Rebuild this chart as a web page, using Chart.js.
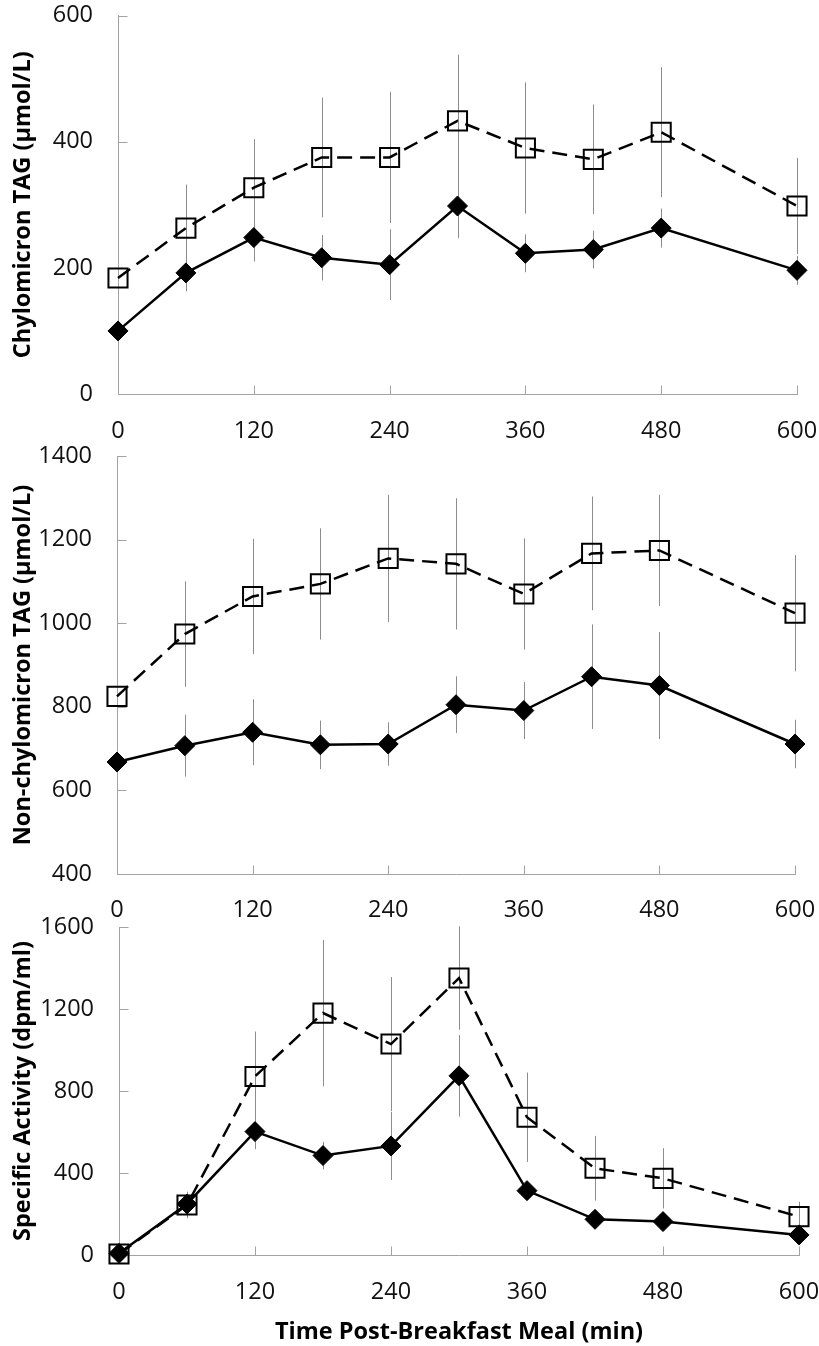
<!DOCTYPE html>
<html><head><meta charset="utf-8">
<script src="https://cdn.jsdelivr.net/npm/chart.js@4.4.1/dist/chart.umd.min.js"></script>
<style>
html,body{margin:0;padding:0;background:#fff;width:819px;height:1346px;overflow:hidden;position:relative}
canvas{position:absolute;left:0;display:block}
</style></head><body>
<canvas id="c1" width="819" height="450" style="top:0px"></canvas>
<canvas id="c2" width="819" height="500" style="top:430px"></canvas>
<canvas id="c3" width="819" height="446" style="top:900px"></canvas>
<script>
// ---- data ----
const times = [0, 60, 120, 180, 240, 300, 360, 420, 480, 600];
const xTickValues = [0, 120, 240, 360, 480, 600];

const chyloTicks = [0, 200, 400, 600];
const chyloSquare = [184, 263, 327, 375, 375, 433, 390, 372, 415, 298];
const chyloSquareErr = [null, 69, 77, 95, 104, 105, 104, 87, 103, 76];
const chyloDiamond = [100, 192, 248, 216, 205, 298, 223, 229, 263, 196];
const chyloDiamondErr = [null, 29, 38, 36, 56, 51, 30, 30, 31, 23];

const nonChyloTicks = [400, 600, 800, 1000, 1200, 1400];
const nonChyloSquare = [825, 974, 1064, 1094, 1155, 1142, 1070, 1167, 1174, 1024];
const nonChyloSquareErr = [null, 126, 138, 133, 152, 157, 133, 136, 133, 139];
const nonChyloDiamond = [668, 707, 739, 709, 711, 805, 791, 872, 851, 711];
const nonChyloDiamondErr = [null, 74, 79, 58, 52, 68, 68, 125, 128, 58];

const saTicks = [0, 400, 800, 1200, 1600];
const saSquare = [5, 244, 871, 1180, 1029, 1351, 672, 423, 374, 187];
const saSquareErr = [null, 65, 219, 357, 327, 252, 218, 158, 147, 73];
const saDiamond = [8, 249, 602, 485, 532, 874, 314, 174, 163, 98];
const saDiamondErr = [null, 30, 86, 67, 166, 199, 30, 20, 20, 15];

// ---- style ----
const AXIS = '#a3a3a3';
const ERR = '#8c8c8c';
const FONT = "'Open Sans', 'Noto Sans', sans-serif";
const TICK_SIZE = 23.5;
const TITLE_SIZE = 23.5;

const errPlugin = {
  id: 'errInside',
  beforeDatasetsDraw(chart) {
    const {ctx, scales: {x, y}} = chart;
    ctx.save();
    ctx.strokeStyle = ERR;
    ctx.lineWidth = 1;
    chart.data.datasets.forEach(ds => {
      ds.data.forEach((p, i) => {
        const e = ds.errors[i];
        if (e == null) return;
        const px = Math.round(x.getPixelForValue(p.x)) + 0.5;
        ctx.beginPath();
        ctx.moveTo(px, y.getPixelForValue(p.y + e));
        ctx.lineTo(px, y.getPixelForValue(p.y - e));
        ctx.stroke();
      });
    });
    ctx.strokeStyle = AXIS;
    const ax = Math.round(x.left) + 0.5;
    const ay = Math.round(y.bottom) + 0.5;
    y.ticks.forEach(t => {
      const py = Math.round(y.getPixelForValue(t.value)) + 0.5;
      ctx.beginPath(); ctx.moveTo(ax, py); ctx.lineTo(ax + 9, py); ctx.stroke();
    });
    x.ticks.forEach(t => {
      if (t.value === x.min) return;
      const px = Math.round(x.getPixelForValue(t.value)) + 0.5;
      ctx.beginPath(); ctx.moveTo(px, ay); ctx.lineTo(px, ay - 9); ctx.stroke();
    });
    ctx.restore();
  }
};

function zeroPad(s) { s.paddingLeft = 0; s.paddingRight = 0; s.paddingTop = 0; s.paddingBottom = 0; }

function makePanel(id, cfg) {
  return new Chart(document.getElementById(id), {
    type: 'line',
    data: {
      datasets: [
        {
          data: cfg.diamond.map((v, i) => ({x: times[i], y: v})),
          errors: cfg.diamondErr,
          borderColor: '#000', borderWidth: 2.5, tension: 0, fill: false, clip: false,
          pointStyle: 'rectRot', pointRadius: 10, pointBackgroundColor: '#000',
          pointBorderColor: '#000', pointBorderWidth: 1
        },
        {
          data: cfg.square.map((v, i) => ({x: times[i], y: v})),
          errors: cfg.squareErr,
          borderColor: '#000', borderWidth: 2.5, borderDash: [15, 8], tension: 0, fill: false, clip: false,
          pointStyle: 'rect', pointRadius: 13.5, pointBackgroundColor: 'rgba(0,0,0,0)',
          pointBorderColor: '#000', pointBorderWidth: 2
        }
      ]
    },
    options: {
      responsive: false, animation: false, devicePixelRatio: 1,
      layout: {padding: {top: cfg.pt, right: cfg.pr, left: 0, bottom: 0}},
      plugins: {legend: {display: false}, tooltip: {enabled: false}},
      scales: {
        x: {
          type: 'linear', min: 0, max: 600,
          afterBuildTicks: s => { s.ticks = xTickValues.map(v => ({value: v})); },
          afterFit: s => { s.height = cfg.xh; zeroPad(s); },
          grid: {display: true, drawOnChartArea: false, drawTicks: false},
          border: {display: true, color: AXIS, width: 1},
          ticks: {padding: cfg.xpad, color: '#111', font: {family: FONT, size: TICK_SIZE}, callback: v => String(v), maxRotation: 0, autoSkip: false},
          title: cfg.xTitle ? {display: true, text: cfg.xTitle, color: '#000', font: {family: FONT, size: TITLE_SIZE, weight: 'bold'}, padding: {top: 0, bottom: 0}} : {display: false}
        },
        y: {
          type: 'linear', min: cfg.yTicks[0], max: cfg.yTicks[cfg.yTicks.length - 1],
          afterBuildTicks: s => { s.ticks = cfg.yTicks.map(v => ({value: v})); },
          afterFit: s => { s.width = cfg.L; zeroPad(s); },
          grid: {display: true, drawOnChartArea: false, drawTicks: false},
          border: {display: true, color: AXIS, width: 1},
          ticks: {padding: 25, color: '#111', font: {family: FONT, size: TICK_SIZE}, callback: v => String(v)},
          title: {display: true, text: cfg.yTitle, color: '#000', font: {family: FONT, size: TITLE_SIZE, weight: 'bold'}, padding: {top: 9, bottom: 0}}
        }
      }
    },
    plugins: [errPlugin]
  });
}

makePanel('c1', {
  diamond: chyloDiamond, diamondErr: chyloDiamondErr, square: chyloSquare, squareErr: chyloSquareErr,
  yTicks: chyloTicks, yTitle: 'Chylomicron TAG (μmol/L)',
  pt: 12, pr: 22, L: 118, xh: 56, xpad: 23
});
makePanel('c2', {
  diamond: nonChyloDiamond, diamondErr: nonChyloDiamondErr, square: nonChyloSquare, squareErr: nonChyloSquareErr,
  yTicks: nonChyloTicks, yTitle: 'Non-chylomicron TAG (μmol/L)',
  pt: 26, pr: 24, L: 117, xh: 56, xpad: 22
});
makePanel('c3', {
  diamond: saDiamond, diamondErr: saDiamondErr, square: saSquare, squareErr: saSquareErr,
  yTicks: saTicks, yTitle: 'Specific Activity (dpm/ml)',
  xTitle: 'Time Post-Breakfast Meal (min)',
  pt: 27, pr: 20, L: 119, xh: 91, xpad: 23
});
</script>
</body></html>
